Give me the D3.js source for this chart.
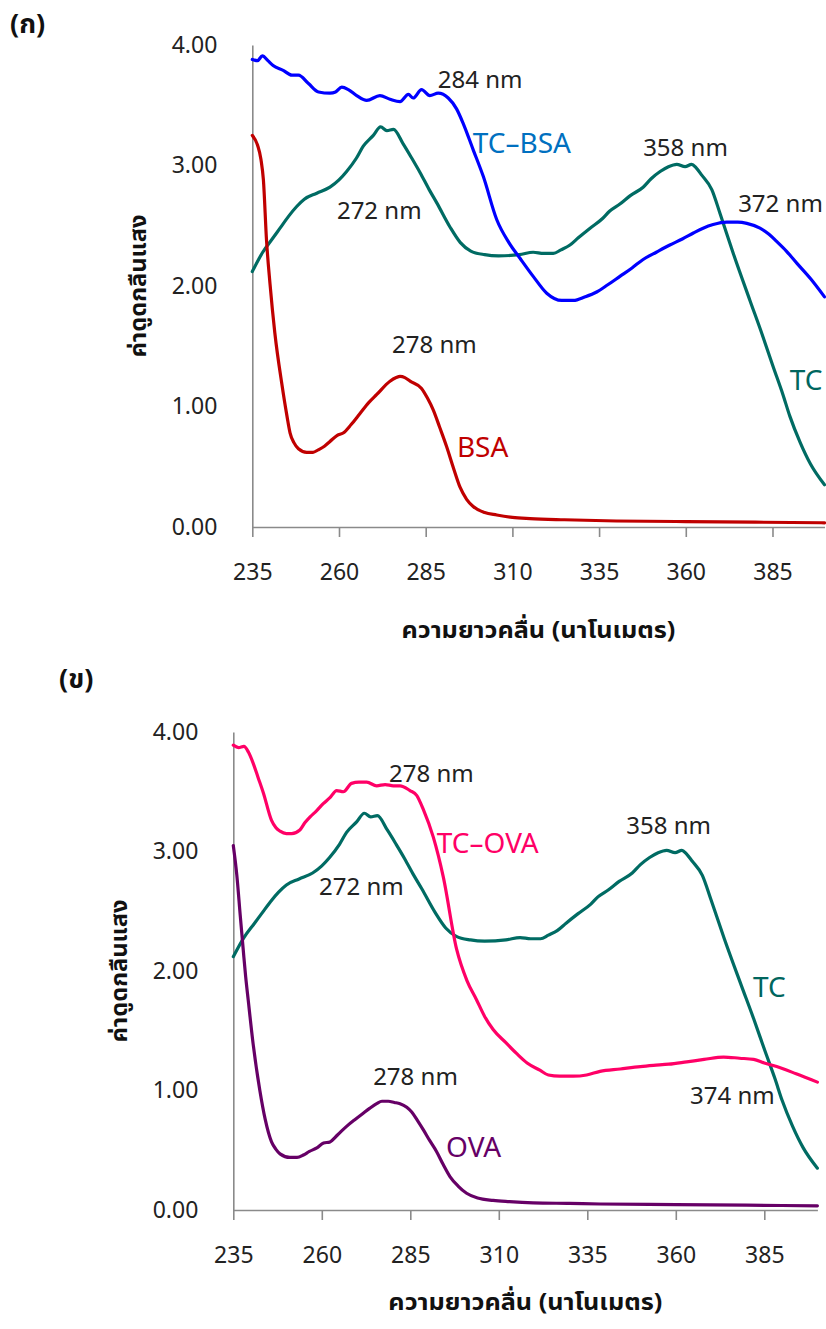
<!DOCTYPE html>
<html>
<head>
<meta charset="utf-8">
<script src="https://cdn.jsdelivr.net/npm/d3@7"></script>
<style>
  html, body { margin: 0; padding: 0; background: #ffffff; }
  svg { display: block; }
  .tick text { font-family: "Noto Sans", "Open Sans", sans-serif; }
</style>
</head>
<body>
<div id="chart"></div>
<script>
// ---------------- DATA ----------------
const xTicks = [235, 260, 285, 310, 335, 360, 385];
const yTicks = [0, 1, 2, 3, 4];
const xTitle = "ความยาวคลื่น (นาโนเมตร)";
const yTitle = "ค่าดูดกลืนแสง";
const panelLabels = ["(ก)", "(ข)"];

// TC (tetracycline) – same spectrum in both panels
const tcNm  = [235, 238, 241, 243, 245.5, 247.8, 250, 253.6, 257.4, 260, 262.2, 265, 267, 269.9, 272, 273.8, 275.7, 278.5, 281, 283.4, 286, 288.2, 292, 295, 298, 302, 306, 312, 316, 319, 321.8, 324, 326.6, 329, 332.4, 336, 338, 341, 344, 347.7, 350, 352.6, 355, 357.4, 359.8, 361.7, 363, 364.6, 367.5, 369.9, 373.7, 378.5, 382, 385.2, 388, 390, 393, 396, 400];
const tcAbs = [2.12, 2.28, 2.40, 2.48, 2.58, 2.66, 2.72, 2.77, 2.82, 2.88, 2.95, 3.06, 3.16, 3.25, 3.32, 3.29, 3.30, 3.18, 3.06, 2.94, 2.80, 2.69, 2.49, 2.36, 2.29, 2.26, 2.25, 2.26, 2.28, 2.27, 2.27, 2.30, 2.34, 2.40, 2.48, 2.56, 2.62, 2.68, 2.75, 2.82, 2.89, 2.95, 2.99, 3.01, 2.99, 3.01, 2.98, 2.92, 2.80, 2.60, 2.27, 1.88, 1.60, 1.33, 1.10, 0.92, 0.70, 0.52, 0.35];

// TC–BSA
const tcBsaNm  = [235, 236.5, 237.9, 239.5, 241, 243.9, 246.4, 248.3, 251.2, 254.1, 257.4, 259, 260.8, 262.7, 265.1, 268, 271.8, 274.7, 277.6, 280, 281.4, 283.8, 286.2, 288.6, 291.5, 293.9, 295.8, 298.7, 301.6, 305.5, 309, 312.2, 316, 319.9, 324.2, 327.6, 331, 334.3, 337.5, 341, 344.5, 347.7, 351.5, 355.4, 359, 362.2, 365, 367.9, 371.8, 375, 377.6, 381.4, 384, 386.2, 389, 392, 396, 400];
const tcBsaAbs = [3.88, 3.87, 3.91, 3.87, 3.83, 3.79, 3.75, 3.75, 3.68, 3.61, 3.60, 3.61, 3.65, 3.63, 3.58, 3.54, 3.58, 3.55, 3.53, 3.59, 3.56, 3.63, 3.58, 3.60, 3.56, 3.47, 3.35, 3.13, 2.91, 2.55, 2.36, 2.23, 2.08, 1.94, 1.88, 1.88, 1.91, 1.95, 2.01, 2.08, 2.15, 2.22, 2.28, 2.34, 2.39, 2.44, 2.48, 2.51, 2.53, 2.53, 2.52, 2.48, 2.43, 2.37, 2.29, 2.19, 2.06, 1.91];

// BSA
const bsaNm  = [235, 236.5, 237.5, 238.2, 239.1, 240.1, 241.5, 243.5, 245, 245.9, 247, 248.3, 250.7, 252.5, 254, 255.8, 257.4, 259.5, 261.2, 263.5, 266, 268.5, 270.9, 274.7, 276.5, 277.6, 279, 280.5, 283.8, 285.5, 287.2, 289, 291, 293, 294.9, 296.8, 298.7, 302, 305.5, 310, 315.1, 325, 340, 360, 380, 400];
const bsaAbs = [3.25, 3.17, 3.05, 2.88, 2.38, 2.02, 1.61, 1.19, 0.92, 0.78, 0.70, 0.65, 0.62, 0.62, 0.64, 0.67, 0.71, 0.76, 0.78, 0.85, 0.94, 1.03, 1.10, 1.21, 1.24, 1.25, 1.24, 1.21, 1.15, 1.07, 0.97, 0.83, 0.67, 0.49, 0.33, 0.23, 0.17, 0.12, 0.10, 0.08, 0.07, 0.06, 0.05, 0.045, 0.04, 0.035];

// TC–OVA
const tcOvaNm  = [235, 236.5, 238, 239.3, 240.6, 242, 243.5, 245.8, 247, 248.2, 250, 251.5, 253.8, 255.2, 256.7, 258.5, 260.4, 262.3, 264.2, 266.1, 268.4, 270.5, 272.7, 275.5, 277.9, 280.2, 282.1, 284.9, 286.8, 288.7, 291.5, 294.3, 298.1, 301, 303.7, 306, 308.4, 312, 315, 318, 321.6, 324, 327.2, 331, 334.8, 338.6, 344.3, 350, 353.7, 358, 363.1, 368, 373.5, 378, 382, 385, 388.5, 394, 400];
const tcOvaAbs = [3.89, 3.87, 3.88, 3.83, 3.74, 3.62, 3.49, 3.26, 3.20, 3.17, 3.15, 3.15, 3.18, 3.24, 3.29, 3.34, 3.40, 3.45, 3.51, 3.50, 3.57, 3.58, 3.58, 3.55, 3.56, 3.55, 3.55, 3.51, 3.47, 3.35, 3.12, 2.79, 2.18, 1.92, 1.76, 1.62, 1.51, 1.40, 1.31, 1.23, 1.17, 1.13, 1.12, 1.12, 1.13, 1.16, 1.18, 1.20, 1.21, 1.22, 1.24, 1.26, 1.28, 1.27, 1.26, 1.23, 1.20, 1.14, 1.07];

// OVA
const ovaNm  = [235, 236, 237, 237.8, 238.5, 239.2, 240.6, 242.5, 244, 245.8, 247, 248.2, 251, 253, 254.8, 256.5, 258.6, 260.5, 262.3, 264.5, 267, 269.5, 271.7, 273.5, 275.5, 277, 278.8, 280.5, 282.1, 284, 285.4, 287, 288.7, 290.5, 292.4, 294.3, 296.2, 298.5, 300.9, 304, 308.4, 313, 319.7, 330, 338.6, 360, 380, 400];
const ovaAbs = [3.05, 2.80, 2.45, 2.18, 1.95, 1.76, 1.39, 1.00, 0.76, 0.57, 0.51, 0.47, 0.44, 0.44, 0.46, 0.49, 0.52, 0.56, 0.57, 0.63, 0.70, 0.76, 0.81, 0.85, 0.89, 0.91, 0.91, 0.90, 0.89, 0.86, 0.82, 0.75, 0.67, 0.58, 0.49, 0.38, 0.28, 0.20, 0.14, 0.10, 0.08, 0.07, 0.06, 0.055, 0.05, 0.045, 0.04, 0.035];

// Annotations: [text, nm, absorbance]
const notes1 = [["284 nm", 288.5, 3.64], ["272 nm", 259.4, 2.56], ["358 nm", 347.7, 3.08], ["372 nm", 375.1, 2.61], ["278 nm", 275.3, 1.44]];
const seriesLabels1 = [["TC–BSA", 298.6, 3.10, "#0070C0"], ["BSA", 294.0, 0.58, "#C00000"], ["TC", 390.0, 1.14, "#00665E"]];
const notes2 = [["278 nm", 279.0, 3.58], ["272 nm", 259.2, 2.64], ["358 nm", 346.0, 3.15], ["374 nm", 364.0, 0.89], ["278 nm", 274.5, 1.05]];
const seriesLabels2 = [["TC–OVA", 292.5, 2.99, "#FF0066"], ["TC", 381.8, 1.78, "#00665E"], ["OVA", 295.1, 0.44, "#660066"]];

// ---------------- DRAW ----------------
const W = 826, H = 1329;
const svg = d3.select("#chart").append("svg").attr("width", W).attr("height", H);

const latin = '"Noto Sans", "Open Sans", sans-serif';
const thai = '"Noto Sans Thai", "Noto Sans Thai UI", "Tahoma", "Loma", "Garuda", "Norasi", "Tlwg Typo", "Noto Sans", sans-serif';
const axisGray = "#8a8a8a";

function zip(xs, ys) { return xs.map((x, i) => [x, ys[i]]); }

function panel(cfg) {
  const x = d3.scaleLinear().domain([235, 400]).range([cfg.x0, cfg.x1]);
  const y = d3.scaleLinear().domain([0, 4]).range([cfg.y0, cfg.y1]);
  const g = svg.append("g");

  // y axis
  const ya = g.append("g").attr("transform", `translate(${cfg.x0},0)`)
    .call(d3.axisLeft(y).tickValues(yTicks).tickFormat(d3.format(".2f")).tickSize(0).tickPadding(35).tickSizeOuter(0));
  ya.select(".domain").attr("stroke", axisGray).attr("stroke-width", 1.6);
  ya.selectAll("text").attr("font-size", 23).attr("fill", "#222").attr("font-family", latin);

  // x axis
  const xa = g.append("g").attr("transform", `translate(0,${cfg.y0})`)
    .call(d3.axisBottom(x).tickValues(xTicks).tickSize(10).tickPadding(27).tickSizeOuter(0));
  xa.select(".domain").attr("stroke", axisGray).attr("stroke-width", 1.6);
  xa.selectAll(".tick line").attr("stroke", axisGray).attr("stroke-width", 1.6);
  xa.selectAll("text").attr("font-size", 23).attr("fill", "#222").attr("font-family", latin);

  const line = d3.line().x(d => x(d[0])).y(d => y(d[1])).curve(d3.curveMonotoneX);
  cfg.series.forEach(s => {
    g.append("path").attr("d", line(zip(s.nm, s.abs)))
      .attr("fill", "none").attr("stroke", s.color).attr("stroke-width", 3.2)
      .attr("stroke-linejoin", "round").attr("stroke-linecap", "round");
  });

  cfg.notes.forEach(n => {
    g.append("text").attr("x", x(n[1])).attr("y", y(n[2]))
      .attr("font-family", latin).attr("font-size", 24).attr("fill", "#222").text(n[0]);
  });
  cfg.labels.forEach(n => {
    g.append("text").attr("x", x(n[1])).attr("y", y(n[2]))
      .attr("font-family", latin).attr("font-size", 28).attr("fill", n[3]).text(n[0]);
  });

  // axis titles
  g.append("text").attr("x", (cfg.x0 + cfg.x1) / 2).attr("y", cfg.y0 + cfg.titleGap)
    .attr("text-anchor", "middle").attr("font-family", thai).attr("font-weight", "bold")
    .attr("font-size", 23).attr("fill", "#111")
    .attr("textLength", 274).attr("lengthAdjust", "spacingAndGlyphs").text(xTitle);
  g.append("text").attr("transform", `translate(${cfg.x0 - 106},${(cfg.y0 + cfg.y1) / 2}) rotate(-90)`)
    .attr("text-anchor", "middle").attr("font-family", thai).attr("font-weight", "bold")
    .attr("font-size", 23).attr("fill", "#111")
    .attr("textLength", 143).attr("lengthAdjust", "spacingAndGlyphs").text(yTitle);

  // panel label
  g.append("text").attr("x", cfg.px).attr("y", cfg.py)
    .attr("font-family", thai).attr("font-weight", "bold").attr("font-size", 27).attr("fill", "#111")
    .text(cfg.panelLabel);
}

panel({
  x0: 252.3, x1: 824.5, y0: 527, y1: 45, px: 10, py: 33, titleGap: 111, panelLabel: panelLabels[0],
  series: [
    { nm: tcNm, abs: tcAbs, color: "#006B63" },
    { nm: bsaNm, abs: bsaAbs, color: "#C00000" },
    { nm: tcBsaNm, abs: tcBsaAbs, color: "#0000FF" }
  ],
  notes: notes1, labels: seriesLabels1
});

panel({
  x0: 233.3, x1: 817.4, y0: 1210, y1: 732, px: 59, py: 688, titleGap: 100, panelLabel: panelLabels[1],
  series: [
    { nm: tcNm, abs: tcAbs, color: "#006B63" },
    { nm: ovaNm, abs: ovaAbs, color: "#660066" },
    { nm: tcOvaNm, abs: tcOvaAbs, color: "#FF0066" }
  ],
  notes: notes2, labels: seriesLabels2
});
</script>
</body>
</html>
